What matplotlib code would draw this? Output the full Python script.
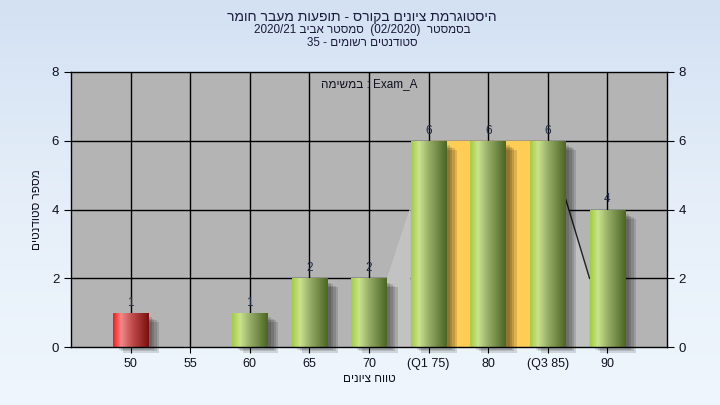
import numpy as np
import matplotlib
matplotlib.use("Agg")
import matplotlib.pyplot as plt
from matplotlib.colors import LinearSegmentedColormap
from matplotlib.patches import Rectangle, Polygon

plt.rcParams['font.family'] = ['Liberation Sans', 'DejaVu Sans']

# data
grades = ["50", "55", "60", "65", "70", "(Q1 75)", "80", "(Q3 85)", "90"]
counts = [1, 0, 1, 2, 2, 6, 6, 6, 4]
bar_kind = ["red", "green", "green", "green", "green", "green", "green", "green", "green"]
q1_idx, q3_idx = 5, 7

title_lines = ["היסטוגרמת ציונים בקורס - תופעות מעבר חומר",
               "בסמסטר  (02/2020)  סמסטר אביב 2020/21",
               "סטודנטים רשומים - 35"]
task_label = "Exam_A : במשימה"
xlabel = "טווח ציונים"
ylabel = "מספר סטודנטים"


def is_heb(t):
    return any('\u0590' <= c <= '\u05ff' for c in t)


def rtl(s):
    # crude visual ordering for matplotlib (no bidi support)
    toks = s.split(' ')[::-1]
    return ' '.join(t[::-1] if is_heb(t) else t for t in toks)


fig = plt.figure(figsize=(7.2, 4.05), dpi=100)

# background gradient
bg = fig.add_axes([0, 0, 1, 1], zorder=-10)
bg_cmap = LinearSegmentedColormap.from_list("bg", ["#d3e1f3", "#e6eff9", "#eff6fd"])
grad = np.linspace(0, 1, 256).reshape(-1, 1)
bg.imshow(grad, aspect='auto', cmap=bg_cmap, extent=[0, 1, 0, 1], origin='upper')
bg.axis('off')

ax = fig.add_axes([71 / 720, 1 - 347 / 405, 596 / 720, 275 / 405])
ax.set_facecolor("#b4b4b4")
ax.set_xlim(-1, 9)
ax.set_ylim(0, 8)

x = np.arange(len(grades))
w = 0.6

# grid
for xi in x:
    ax.axvline(xi, color="black", lw=1, zorder=1)
for yv in [2, 4, 6]:
    ax.axhline(yv, color="black", lw=1, zorder=1)

# Q1-Q3 band
ax.fill_between([x[q1_idx], x[q3_idx]], 0, counts[q1_idx], color="#ffcc55", zorder=2)

# light side areas
p1 = Polygon([(x[4] + w / 2, 0), (x[4] + w / 2, counts[4]), (x[5] - w / 2, (counts[4] + counts[5]) / 2 + 0.1),
              (x[5] - w / 2, 0)], closed=True, color="#c2c2c2", zorder=2, lw=0)
ax.add_patch(p1)
p2 = Polygon([(x[7] + w / 2, 0), (x[7] + w / 2, 4.3), (x[8] - w / 2, counts[8] / 2), (x[8] - w / 2, 0)],
             closed=True, color="#c2c2c2", zorder=2, lw=0)
ax.add_patch(p2)
ax.plot([x[7] + w / 2, x[8] - w / 2], [4.3, counts[8] / 2], color="#202020", lw=1, zorder=2.5)

green = LinearSegmentedColormap.from_list("g", [(0, "#a3cc3f"), (0.22, "#c9e38f"), (0.5, "#97ae68"),
                                                (1, "#4b6524")])
red = LinearSegmentedColormap.from_list("r", [(0, "#ff1515"), (0.22, "#f08a8a"), (0.55, "#c04a4a"),
                                              (1, "#7a0f0f")])
hgrad = np.linspace(0, 1, 128).reshape(1, -1)

bars = ax.bar(x, counts, width=w, color="none", zorder=4)
for xi, c, b, kind in zip(x, counts, bars, bar_kind):
    if c <= 0:
        continue
    # soft shadow
    for dx in [0.03, 0.07, 0.11, 0.15]:
        ax.add_patch(Rectangle((xi - w / 2 + dx + 0.03, -dx * 1.1), w, c - 0.1,
                               color="black", alpha=0.13, lw=0, zorder=3, clip_on=False))
    im = ax.imshow(hgrad, aspect='auto', cmap=green if kind == "green" else red,
                   extent=[xi - w / 2, xi + w / 2, 0, c], zorder=4)
    im.set_clip_path(b)
    ax.text(xi, c + 0.12, str(c), ha='center', va='bottom', fontsize=8.5, color="#1e2a44", zorder=5)

ax.set_xlim(-1, 9)
ax.set_ylim(0, 8)

ax.set_xticks(x)
ax.set_xticklabels(grades, fontsize=9, color="#101020")
ax.set_yticks([0, 2, 4, 6, 8])
ax.tick_params(axis='y', left=True, right=True, labelleft=True, labelright=True,
               direction='out', length=5, labelsize=9.5, labelcolor="#101020")
ax.tick_params(axis='x', direction='out', length=4, pad=4)
for sp in ax.spines.values():
    sp.set_color("black")
    sp.set_linewidth(1)
    sp.set_zorder(6)

ax.set_xlabel(rtl(xlabel), fontsize=8.5, color="#101020", labelpad=2)
ax.set_ylabel(rtl(ylabel), fontsize=8.5, color="#101020", labelpad=6)

ax.text(0.5, 0.955, rtl(task_label), transform=ax.transAxes, ha='center', va='center',
        fontsize=8.5, color="#101020", zorder=7)

title_sizes = [10, 8.4, 8.4]
for i, line in enumerate(title_lines):
    fig.text(0.503, 1 - (17 + 13 * i) / 405, rtl(line), ha='center', va='center',
             fontsize=title_sizes[i], color="#1a1a3a")

fig.savefig("out.png", dpi=100)
